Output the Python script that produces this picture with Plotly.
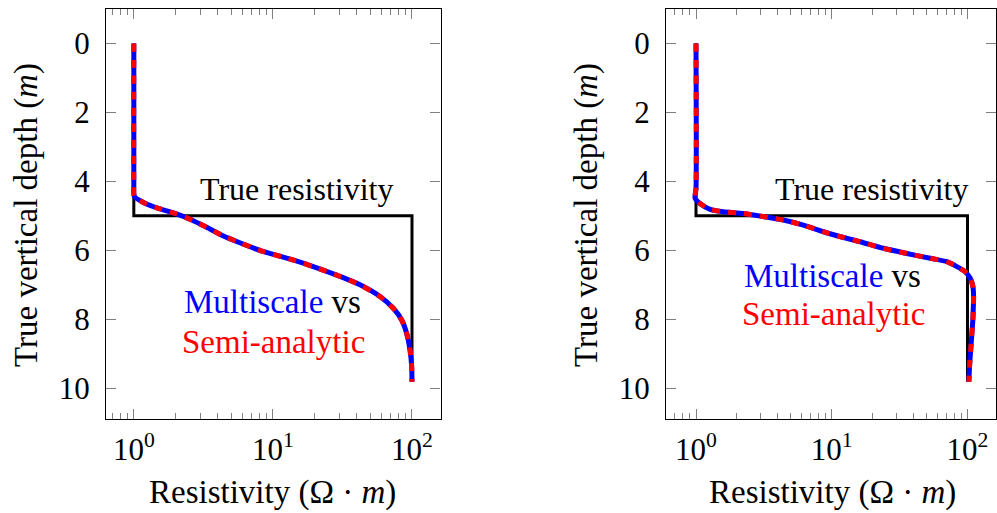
import plotly.graph_objects as go

# ---------------- data ----------------
depth_true = [0, 5, 5, 9.8]
res_true = [1, 1, 100, 100]

depth_left = [0.0, 4.06, 4.44, 4.64, 4.78, 4.93, 5.12, 5.31, 5.56, 5.80, 6.04, 6.18,
              6.30, 6.47, 6.72, 7.00, 7.34, 7.68, 8.02, 8.41, 8.89, 9.37, 9.81]
res_left = [1.0, 1.0, 1.01, 1.21, 1.50, 1.98, 2.61, 3.26, 4.29, 5.97, 8.6, 11.5,
            14.5, 19.5, 28.8, 42.3, 58.9, 73.4, 84.3, 91.6, 96.8, 99.5, 100.0]

depth_right = [0.0, 4.2, 4.49, 4.64, 4.81, 4.88, 4.93, 5.02, 5.12, 5.27, 5.46, 5.62,
               5.75, 5.94, 6.09, 6.23, 6.33, 6.47, 6.62, 6.81, 7.05, 7.34, 7.6, 8.02,
               8.79, 9.37, 9.81]
res_right = [1.0, 1.0, 0.984, 1.07, 1.27, 1.59, 2.23, 3.13, 4.40, 6.18, 8.67, 12.0,
             16.2, 24.0, 35.7, 53.1, 70.5, 83.5, 96.2, 104.8, 109.6, 110.9, 110.5, 109.5,
             106.0, 103.5, 102.4]

x_tickvals = [1, 10, 100]
x_ticktext = ["10<sup>0</sup>", "10<sup>1</sup>", "10<sup>2</sup>"]
y_tickvals = [0, 2, 4, 6, 8, 10]
x_minor = [k * 10 ** e for e in (-1, 0, 1) for k in range(2, 10)]

FONT = "Liberation Serif"
FS_TICK = 31
FS_TITLE = 33
FS_ANN = 33
W, H = 997, 513

fig = go.Figure()

panels = [
    dict(xa="x", ya="y", dom=[106 / W, 440.5 / W], xr=[-0.2, 2.205],
         d=depth_left, r=res_left),
    dict(xa="x2", ya="y2", dom=[666 / W, 996 / W], xr=[-0.221, 2.21],
         d=depth_right, r=res_right),
]

for i, p in enumerate(panels):
    fig.add_trace(go.Scatter(x=res_true, y=depth_true, mode="lines",
                             line=dict(color="black", width=3),
                             xaxis=p["xa"], yaxis=p["ya"], showlegend=False))
    fig.add_trace(go.Scatter(x=p["r"], y=p["d"], mode="lines",
                             line=dict(color="#0000ff", width=5, shape="spline", smoothing=0.6),
                             xaxis=p["xa"], yaxis=p["ya"], showlegend=False))
    fig.add_trace(go.Scatter(x=p["r"], y=p["d"], mode="lines",
                             line=dict(color="#ff0000", width=5, dash="8px,8px",
                                       shape="spline", smoothing=0.6),
                             xaxis=p["xa"], yaxis=p["ya"], showlegend=False))

ydom = [1 - 419 / H, 1 - 9.3 / H]
common_x = dict(type="log", tickvals=x_tickvals, ticktext=x_ticktext,
                ticks="inside", ticklen=10, tickcolor="#808080", tickwidth=1,
                showline=True, linecolor="black", linewidth=1.2, mirror="ticks",
                showgrid=False, zeroline=False,
                tickfont=dict(family=FONT, size=FS_TICK, color="black"),
                ticklabelstandoff=3,
                minor=dict(tickvals=x_minor, ticks="inside", ticklen=6,
                           tickcolor="#808080", tickwidth=1, showgrid=False))
common_y = dict(range=[10.89, -0.99], tickvals=y_tickvals,
                ticks="inside", ticklen=10, tickcolor="#808080", tickwidth=1,
                showline=True, linecolor="black", linewidth=1.2, mirror="ticks",
                showgrid=False, zeroline=False,
                tickfont=dict(family=FONT, size=FS_TICK, color="black"),
                ticklabelstandoff=9)

fig.update_layout(
    width=W, height=H,
    margin=dict(l=0, r=0, t=0, b=0),
    paper_bgcolor="white", plot_bgcolor="white",
    font=dict(family=FONT, size=FS_TICK, color="black"),
    xaxis=dict(common_x, domain=panels[0]["dom"], range=panels[0]["xr"], anchor="y"),
    yaxis=dict(common_y, domain=ydom, anchor="x"),
    xaxis2=dict(common_x, domain=panels[1]["dom"], range=panels[1]["xr"], anchor="y2"),
    yaxis2=dict(common_y, domain=ydom, anchor="x2"),
)

def ann(text, x, y, size=FS_ANN, **kw):
    fig.add_annotation(text=text, x=x / W, y=1 - y / H, xref="paper", yref="paper",
                       showarrow=False, xanchor="center", yanchor="middle",
                       font=dict(family=FONT, size=size, color="black"), **kw)

for off in (0, 560):
    ann("Resistivity (Ω · <i>m</i>)", 272.5 + off, 492, size=FS_TITLE)
    ann("True vertical depth (<i>m</i>)", 27 + off, 215, size=FS_TITLE, textangle=-90)

ann("True resistivity", 297, 189, size=32)
ann('<span style="color:#0000ff">Multiscale</span> vs', 272, 302)
ann('<span style="color:#ff0000">Semi-analytic</span>', 273, 342)

ann("True resistivity", 872, 189, size=32)
ann('<span style="color:#0000ff">Multiscale</span> vs', 832, 276)
ann('<span style="color:#ff0000">Semi-analytic</span>', 833, 314)

fig.write_html("out.html", config={"displayModeBar": False},
               post_script="document.body.style.margin='0';document.body.style.overflow='hidden';")
